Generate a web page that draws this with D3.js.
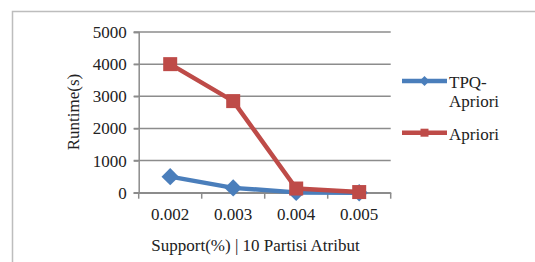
<!DOCTYPE html>
<html>
<head>
<meta charset="utf-8">
<script src="https://cdn.jsdelivr.net/npm/d3@7"></script>
<style>
  body { margin: 0; background: #fff; }
</style>
</head>
<body>
<svg id="chart" width="535" height="262"></svg>
<script>
// chart data
const categories = ['0.002', '0.003', '0.004', '0.005'];
const tpqApriori = [500, 150, 10, 0];
const apriori = [4000, 2850, 130, 20];
const yTicks = [0, 1000, 2000, 3000, 4000, 5000];

const series = [
    { name: 'TPQ-Apriori', label: ['TPQ-', 'Apriori'], values: tpqApriori, color: '#4a7ebb', marker: 'diamond' },
    { name: 'Apriori', label: ['Apriori'], values: apriori, color: '#be4b48', marker: 'square' }
];

const FONT = 'Liberation Serif';

const svg = d3.select('#chart');
const plot = { left: 138.7, right: 390.7, top: 32, bottom: 192.7 };

// outer frame
svg.append('path')
    .attr('d', 'M12.5,262 L12.5,11.5 L535,11.5')
    .attr('fill', 'none')
    .attr('stroke', '#bdbdbd')
    .attr('stroke-width', 1.5);

const x = d3.scaleBand()
    .domain(categories)
    .range([plot.left, plot.right]);

const y = d3.scaleLinear()
    .domain([0, 5000])
    .range([plot.bottom, plot.top]);

function styleText(sel) {
    sel.attr('font-size', 17)
        .attr('font-family', FONT)
        .attr('fill', '#222');
}

// gridlines
svg.append('g')
    .selectAll('line')
    .data(yTicks)
    .join('line')
    .attr('x1', plot.left - 5)
    .attr('x2', plot.right)
    .attr('y1', d => y(d))
    .attr('y2', d => y(d))
    .attr('stroke', '#8c8c8c')
    .attr('stroke-width', 1.5);

// y axis
const yAxis = svg.append('g')
    .attr('transform', `translate(${plot.left},0)`)
    .call(d3.axisLeft(y).tickValues(yTicks).tickFormat(d3.format('d')).tickSize(5).tickPadding(7));
yAxis.attr('font-family', FONT).attr('font-size', 17);
yAxis.select('.domain').attr('stroke', '#8c8c8c').attr('stroke-width', 1.5);
yAxis.selectAll('.tick line').attr('stroke', '#8c8c8c').attr('stroke-width', 1.5);
yAxis.selectAll('.tick text').call(styleText);

// x axis with ticks at category boundaries
const xAxis = svg.append('g')
    .attr('transform', `translate(0,${plot.bottom})`)
    .call(d3.axisBottom(x).tickSize(0).tickPadding(15));
xAxis.attr('font-family', FONT).attr('font-size', 17);
xAxis.select('.domain').attr('stroke', '#8c8c8c').attr('stroke-width', 1.5);
xAxis.selectAll('.tick text').call(styleText);

const boundaries = categories.map(c => x(c)).concat([x(categories[categories.length - 1]) + x.bandwidth()]);
xAxis.selectAll('.bound')
    .data(boundaries)
    .join('line')
    .attr('class', 'bound')
    .attr('x1', d => d)
    .attr('x2', d => d)
    .attr('y1', 0)
    .attr('y2', 6)
    .attr('stroke', '#8c8c8c')
    .attr('stroke-width', 1.5);

// axis titles
svg.append('text')
    .attr('transform', 'translate(79,112) rotate(-90)')
    .attr('text-anchor', 'middle')
    .call(styleText)
    .text('Runtime(s)');

svg.append('text')
    .attr('x', 255.5)
    .attr('y', 251)
    .attr('text-anchor', 'middle')
    .call(styleText)
    .text('Support(%) | 10 Partisi Atribut');

// series lines and markers
const line = d3.line()
    .x((d, i) => x(categories[i]) + x.bandwidth() / 2)
    .y(d => y(d));

function drawMarker(g, type, cx, cy, size, color) {
    if (type === 'square') {
        g.append('rect')
            .attr('x', cx - size / 2)
            .attr('y', cy - size / 2)
            .attr('width', size)
            .attr('height', size)
            .attr('fill', color);
    } else {
        const r = size * 0.62;
        g.append('path')
            .attr('d', `M${cx},${cy - r} L${cx + r},${cy} L${cx},${cy + r} L${cx - r},${cy} Z`)
            .attr('fill', color);
    }
}

series.forEach(s => {
    const g = svg.append('g');
    g.append('path')
        .datum(s.values)
        .attr('d', line)
        .attr('fill', 'none')
        .attr('stroke', s.color)
        .attr('stroke-width', 4.5)
        .attr('stroke-linejoin', 'round');
    s.values.forEach((v, i) => {
        drawMarker(g, s.marker, x(categories[i]) + x.bandwidth() / 2, y(v), 14, s.color);
    });
});

// legend
const legendRows = [{ lineY: 81, textY: 88 }, { lineY: 132.7, textY: 140 }];
series.forEach((s, i) => {
    const row = legendRows[i];
    const g = svg.append('g');
    g.append('line')
        .attr('x1', 402)
        .attr('x2', 447)
        .attr('y1', row.lineY)
        .attr('y2', row.lineY)
        .attr('stroke', s.color)
        .attr('stroke-width', 4.5);
    drawMarker(g, s.marker, 424.5, row.lineY, 8, s.color);
    s.label.forEach((t, j) => {
        g.append('text')
            .attr('x', 449)
            .attr('y', row.textY + j * 19)
            .call(styleText)
            .text(t);
    });
});
</script>
</body>
</html>
